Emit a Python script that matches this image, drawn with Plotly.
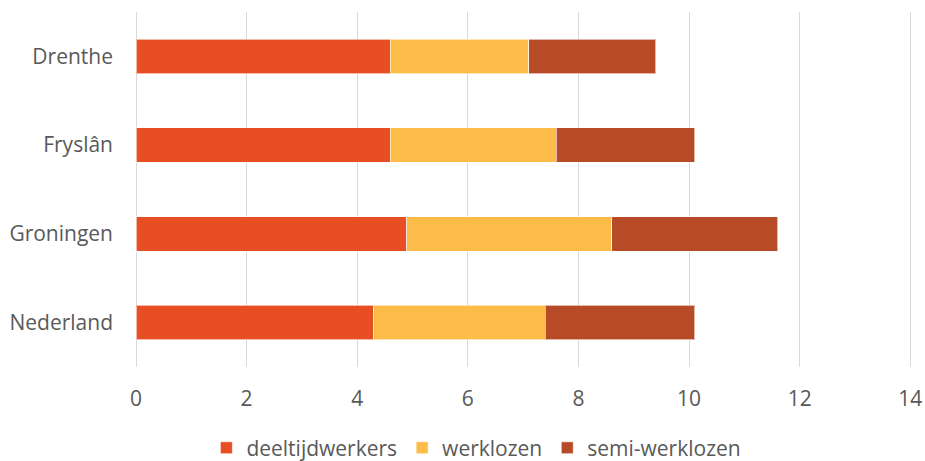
import plotly.graph_objects as go

regions = ["Drenthe", "Fryslân", "Groningen", "Nederland"]
deeltijdwerkers = [4.6, 4.6, 4.9, 4.3]
werklozen = [2.5, 3.0, 3.7, 3.1]
semi_werklozen = [2.3, 2.5, 3.0, 2.7]
x_ticks = [0, 2, 4, 6, 8, 10, 12, 14]

series = [
    ("deeltijdwerkers", deeltijdwerkers, "#E84E24"),
    ("werklozen", werklozen, "#FDBB48"),
    ("semi-werklozen", semi_werklozen, "#B84B27"),
]

fig = go.Figure()
for name, vals, col in series:
    fig.add_trace(go.Bar(
        y=regions, x=vals, name=name, orientation="h",
        marker=dict(color=col, line=dict(color="rgba(255,255,255,0.6)", width=1)),
    ))

font = dict(family="Open Sans", size=21, color="#595959")
fig.update_layout(
    barmode="stack",
    bargap=0.61,
    width=925, height=461,
    margin=dict(l=136, r=12, t=12, b=94, autoexpand=False),
    paper_bgcolor="white", plot_bgcolor="white",
    font=font,
    showlegend=True,
    legend=dict(orientation="h", xref="container", yref="container",
                x=0.515, xanchor="center", y=0.028, yanchor="middle",
                font=font, itemwidth=30, traceorder="normal"),
    xaxis=dict(range=[0, 14.05], tickvals=x_ticks, showgrid=True,
               gridcolor="#D9D9D9", gridwidth=1, zeroline=True,
               zerolinecolor="#D9D9D9", zerolinewidth=1, showline=False,
               ticklabelstandoff=17, fixedrange=True, automargin=False),
    yaxis=dict(categoryorder="array", categoryarray=regions[::-1],
               showgrid=False, showline=False, ticklabelstandoff=22,
               fixedrange=True, automargin=False),
)

fig.write_html(
    "out.html",
    config={"displayModeBar": False, "staticPlot": True},
    post_script="document.body.style.margin='0';document.body.style.overflow='hidden';",
)
